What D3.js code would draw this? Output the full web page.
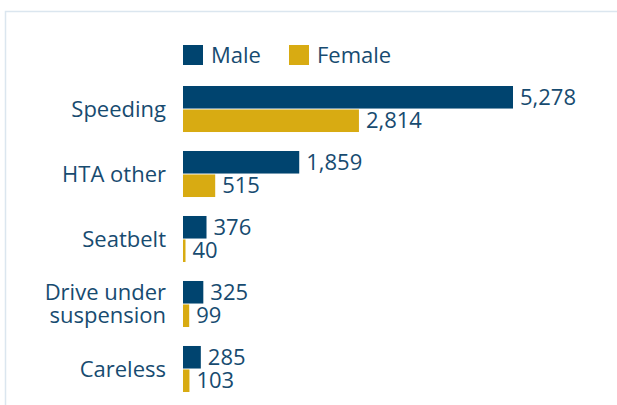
<!DOCTYPE html>
<html>
<head>
<meta charset="utf-8">
<script src="https://cdn.jsdelivr.net/npm/d3@7"></script>
<style>
  html, body { margin: 0; padding: 0; background: #fff; }
  svg { display: block; font-family: "Open Sans", sans-serif; }
</style>
</head>
<body>
<div id="chart"></div>
<script>
// data
const categories = ['Speeding', 'HTA other', 'Seatbelt', 'Drive under suspension', 'Careless'];
const categoryLines = [['Speeding'], ['HTA other'], ['Seatbelt'], ['Drive under', 'suspension'], ['Careless']];
const seriesNames = ['Male', 'Female'];
const maleValues = [5278, 1859, 376, 325, 285];
const femaleValues = [2814, 515, 40, 99, 103];
const colors = { Male: '#00446f', Female: '#d8ab12' };
const textColor = '#174b70';

const width = 617, height = 405;

const svg = d3.select('#chart')
    .append('svg')
    .attr('width', width)
    .attr('height', height);

// card border
svg.append('rect')
    .attr('x', 5.5).attr('y', 11.5)
    .attr('width', width + 10).attr('height', height + 10)
    .attr('fill', 'none')
    .attr('stroke', '#dbe6ef')
    .attr('stroke-width', 1.5);

const x = d3.scaleLinear()
    .domain([0, d3.max(maleValues.concat(femaleValues))])
    .range([183, 513]);

const y = d3.scaleBand()
    .domain(categories)
    .range([86, 392])
    .paddingInner(0.292)
    .paddingOuter(0);

const ySub = d3.scaleBand()
    .domain(seriesNames)
    .range([0, y.bandwidth()])
    .paddingInner(0.04);

const rows = categories.map((c, i) => ({
    cat: c,
    lines: categoryLines[i],
    values: [
        { key: 'Male', value: maleValues[i] },
        { key: 'Female', value: femaleValues[i] }
    ]
}));

// category labels
const labels = svg.append('g')
    .selectAll('text')
    .data(rows)
    .enter().append('text')
    .attr('x', 166)
    .attr('text-anchor', 'end')
    .attr('fill', textColor)
    .attr('font-size', 22);

labels.each(function(d) {
    const t = d3.select(this);
    const cy = y(d.cat) + y.bandwidth() / 2;
    const lh = 23;
    d.lines.forEach((line, j) => {
        t.append('tspan')
            .attr('x', 166)
            .attr('y', cy + (j - (d.lines.length - 1) / 2) * lh)
            .attr('dy', '0.35em')
            .text(line);
    });
});

// bars
const groups = svg.append('g')
    .selectAll('g')
    .data(rows)
    .enter().append('g')
    .attr('transform', d => `translate(0,${y(d.cat)})`);

groups.selectAll('rect')
    .data(d => d.values)
    .enter().append('rect')
    .attr('x', x(0))
    .attr('y', d => ySub(d.key))
    .attr('width', d => x(d.value) - x(0))
    .attr('height', ySub.bandwidth())
    .attr('fill', d => colors[d.key]);

groups.selectAll('text')
    .data(d => d.values)
    .enter().append('text')
    .attr('x', d => x(d.value) + 7)
    .attr('y', d => ySub(d.key) + ySub.bandwidth() / 2)
    .attr('dy', '0.35em')
    .attr('fill', textColor)
    .attr('font-size', 22)
    .text(d => d3.format(',')(d.value));

// legend
const legendX = [183, 289];
const legend = svg.append('g')
    .selectAll('g')
    .data(seriesNames)
    .enter().append('g')
    .attr('transform', (d, i) => `translate(${legendX[i]},45)`);

legend.append('rect')
    .attr('width', 20)
    .attr('height', 20)
    .attr('fill', d => colors[d]);

legend.append('text')
    .attr('x', 28)
    .attr('y', 10)
    .attr('dy', '0.35em')
    .attr('fill', textColor)
    .attr('font-size', 22)
    .text(d => d);
</script>
</body>
</html>
